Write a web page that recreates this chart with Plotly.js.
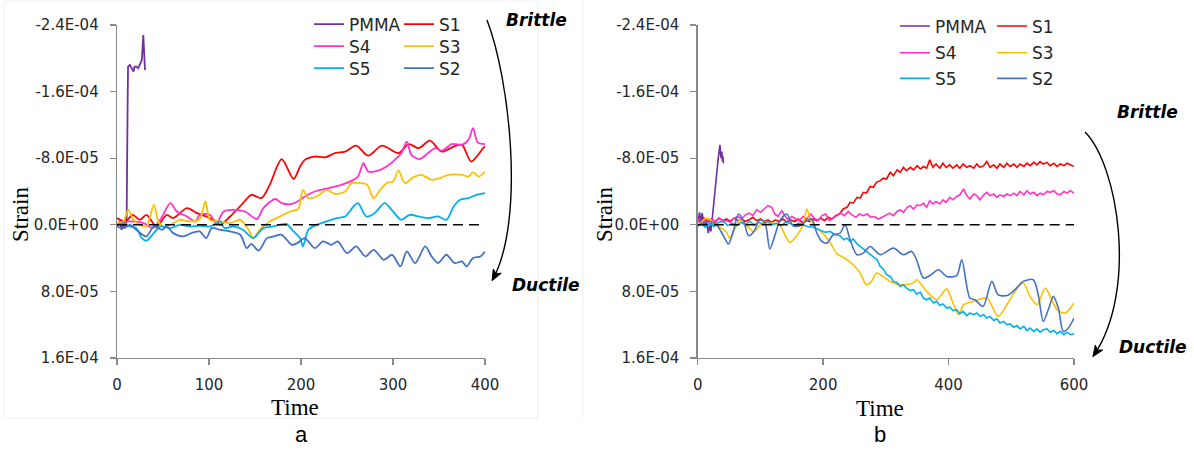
<!DOCTYPE html>
<html><head><meta charset="utf-8">
<script src="https://cdn.plot.ly/plotly-3.0.1.min.js"></script>
<style>html,body{margin:0;padding:0;background:#fff}#chart{width:1194px;height:452px}</style>
</head><body><div id="chart"></div>
<script>
// ---------- DATA (strain values) ----------
const seriesNames = ['PMMA','S1','S4','S3','S5','S2'];
const seriesColors = {PMMA:'#7030A0', S1:'#FF0000', S4:'#FF33CC', S3:'#FFC000', S5:'#00B0F0', S2:'#4472C4'};
const yTickVals = [-2.4e-4,-1.6e-4,-8e-5,0,8e-5,1.6e-4];
const yTickText = ['-2.4E-04','-1.6E-04','-8.0E-05','0.0E+00','8.0E-05','1.6E-04'];
const xTicksA = [0,100,200,300,400];
const xTicksB = [0,200,400,600];
const panelLabels = ['a','b'];

// Panel a
const tA_PMMA = [0,3,5,7,9,10.5,11.5,12,14,16,18,19,21,23,25,27,28.6,29.5,30.4];
const yA_PMMA = [0.2e-5,-0.4e-5,0.6e-5,-0.2e-5,0.4e-5,-1.0e-5,-14e-5,-19.0e-5,-19.2e-5,-18.8e-5,-18.4e-5,-19.0e-5,-19.0e-5,-18.8e-5,-19.4e-5,-19.8e-5,-22.8e-5,-21.0e-5,-18.6e-5];
const tA_S1 = [0,9,17,25,32,43,54,61,76,87,97,108,112,123,137,146,157,166,179,192,199,204,215,226,237,248,260,273,288,306,317,328,340,353,366,375,385,398,400];
const yA_S1 = [-0.8e-5,-0.4e-5,-1.2e-5,-0.6e-5,-1.2e-5,0.2e-5,-1.2e-5,-0.8e-5,-2.0e-5,-1.4e-5,-1.0e-5,-0.4e-5,0.0,-1.0e-5,-2.6e-5,-3.6e-5,-3.2e-5,-4.8e-5,-7.9e-5,-5.5e-5,-7.0e-5,-7.8e-5,-8.2e-5,-8.1e-5,-8.6e-5,-8.8e-5,-9.5e-5,-8.3e-5,-9.5e-5,-8.6e-5,-9.7e-5,-9.2e-5,-10.1e-5,-8.8e-5,-9.4e-5,-9.6e-5,-7.6e-5,-9.2e-5,-9.4e-5];
const tA_S4 = [0,14,29,39,47,58,65,76,85,90,101,108,116,126,139,152,159,172,179,190,199,204,215,230,244,257,262,268,273,284,293,302,309,315,320,329,338,346,353,364,375,382,387,392,400];
const yA_S4 = [-0.2e-5,-0.4e-5,-0.2e-5,0.4e-5,-0.6e-5,-2.6e-5,-1.6e-5,-1.0e-5,-0.4e-5,-1.2e-5,-1.2e-5,-0.2e-5,-1.6e-5,-1.8e-5,-1.6e-5,-0.7e-5,-2.0e-5,-3.1e-5,-2.6e-5,-2.5e-5,-3.0e-5,-3.4e-5,-4.0e-5,-4.4e-5,-4.8e-5,-5.4e-5,-5.8e-5,-7.4e-5,-6.4e-5,-6.5e-5,-7.0e-5,-7.8e-5,-8.6e-5,-10.0e-5,-8.4e-5,-7.9e-5,-8.6e-5,-9.2e-5,-8.9e-5,-9.7e-5,-9.6e-5,-10.2e-5,-11.6e-5,-9.9e-5,-9.7e-5];
const tA_S3 = [0,7,12,18,25,32,40,45,50,58,68,79,90,96,101,112,123,134,143,148,155,166,177,188,197,202,208,217,228,237,248,255,266,272,279,286,293,300,306,313,322,331,342,351,360,375,382,387,393,400];
const yA_S3 = [-0.2e-5,-0.4e-5,-1.8e-5,-0.6e-5,0,0.2e-5,-2.4e-5,-0.4e-5,0.2e-5,0,-0.6e-5,-0.4e-5,-0.7e-5,-2.8e-5,-0.6e-5,-0.4e-5,-0.2e-5,-0.6e-5,0.6e-5,1.6e-5,0.6e-5,-0.4e-5,-1.0e-5,-1.6e-5,-1.9e-5,-4.2e-5,-3.2e-5,-3.4e-5,-4.2e-5,-3.7e-5,-4.0e-5,-5.0e-5,-5.0e-5,-4.8e-5,-3.2e-5,-4.2e-5,-5.0e-5,-5.2e-5,-6.5e-5,-5.0e-5,-5.7e-5,-6.0e-5,-5.4e-5,-5.6e-5,-6.0e-5,-6.0e-5,-5.8e-5,-6.3e-5,-5.8e-5,-6.4e-5];
const tA_S5 = [0,7,14,21,27,32,40,47,58,68,79,90,101,112,117,126,137,148,159,170,177,184,192,199,202,208,217,228,239,248,257,262,271,280,291,300,309,318,328,338,349,358,366,373,382,391,400];
const yA_S5 = [0,-0.2e-5,0.2e-5,0.4e-5,1.6e-5,1.9e-5,1.0e-5,0.2e-5,0.4e-5,0,0.2e-5,0.1e-5,0.2e-5,-0.4e-5,0.4e-5,0.2e-5,0.6e-5,1.6e-5,0.4e-5,0.2e-5,0,-0.1e-5,0.8e-5,1.6e-5,2.6e-5,0.6e-5,0,-0.4e-5,-0.8e-5,-1.0e-5,-2.2e-5,-2.6e-5,-1.0e-5,-1.4e-5,-2.6e-5,-1.6e-5,-0.6e-5,-1.2e-5,-1.0e-5,-0.8e-5,-1.0e-5,-0.6e-5,-2.2e-5,-3.0e-5,-3.2e-5,-3.6e-5,-3.8e-5];
const tA_S2 = [0,7,14,21,32,40,49,54,61,72,81,90,97,103,112,123,134,141,146,154,163,170,179,190,196,204,215,224,233,240,250,260,270,279,290,299,308,315,324,335,342,349,358,367,375,380,387,395,400];
const yA_S2 = [0.2e-5,0.4e-5,0,0.6e-5,1.4e-5,0.2e-5,0.6e-5,0.2e-5,1.0e-5,1.4e-5,1.0e-5,0.8e-5,1.6e-5,0.4e-5,0.6e-5,0.8e-5,1.2e-5,2.8e-5,2.3e-5,3.1e-5,1.6e-5,1.4e-5,1.2e-5,2.4e-5,2.2e-5,1.6e-5,2.8e-5,2.0e-5,2.4e-5,2.0e-5,3.4e-5,2.6e-5,3.8e-5,3.0e-5,4.2e-5,3.6e-5,5.0e-5,3.2e-5,4.6e-5,2.6e-5,3.8e-5,4.6e-5,3.6e-5,4.6e-5,4.4e-5,5.0e-5,4.0e-5,3.8e-5,3.2e-5];

// Panel b
const tB_PMMA = [0,1,3,5,7,9,11,13,15,17,19,21,23,25,27,29,31,33,34.5,35.5,36.5,37.5,38.5,39.5,40.5,41];
const yB_PMMA = [-0.2e-5,-0.8e-5,-1.5e-5,-0.2e-5,-1.4e-5,-0.6e-5,0.2e-5,-0.8e-5,0.4e-5,1.0e-5,0,0.8e-5,-0.6e-5,-2.2e-5,-4.2e-5,-5.6e-5,-7.0e-5,-8.2e-5,-9.0e-5,-9.6e-5,-8.4e-5,-8.0e-5,-8.8e-5,-7.6e-5,-8.2e-5,-7.4e-5];
const tB_S1 = [0,5,10,16,22,28,34,40,46,52,58,64,70,76,82,88,94,100,106,112,118,124,130,136,142,148,154,160,166,172,178,184,190,196,202,208,214,220,226,232,238,243,248,254,259,264,269,275,280,285,291,296,301,307,312,318,323,328,333,339,344,350,355,360,365,370,375,380,386,391,396,402,407,413,418,423,429,434,440,445,450,456,461,466,472,477,482,488,493,498,504,509,514,520,525,530,536,541,546,551,557,562,568,573,578,584,589,594,600];
const yB_S1 = [-0.6e-5,-0.3e-5,-0.8e-5,-0.4e-5,-0.7e-5,-0.3e-5,-0.8e-5,-0.5e-5,-0.7e-5,-0.4e-5,
-0.8e-5,-0.5e-5,-0.7e-5,-0.4e-5,-0.6e-5,-0.9e-5,-0.5e-5,-0.7e-5,-0.4e-5,-0.6e-5,
-0.3e-5,-0.6e-5,-0.4e-5,-0.7e-5,-0.3e-5,-0.6e-5,-0.4e-5,-0.7e-5,-0.3e-5,-0.6e-5,
-0.4e-5,-0.7e-5,-0.5e-5,-0.8e-5,-0.5e-5,-0.9e-5,-0.7e-5,-1.1e-5,-1.3e-5,-1.9e-5,
-2.1e-5,-2.7e-5,-2.6e-5,-3.3e-5,-3.2e-5,-3.9e-5,-3.8e-5,-4.6e-5,-4.5e-5,-5.1e-5,
-5.3e-5,-5.6e-5,-5.5e-5,-6.3e-5,-5.9e-5,-6.6e-5,-6.3e-5,-6.9e-5,-6.5e-5,-6.9e-5,
-6.6e-5,-7.1e-5,-6.7e-5,-7.0e-5,-6.8e-5,-7.8e-5,-6.9e-5,-7.3e-5,-6.8e-5,-7.4e-5,
-6.9e-5,-7.2e-5,-6.8e-5,-7.2e-5,-6.8e-5,-7.3e-5,-6.9e-5,-7.1e-5,-6.8e-5,-7.3e-5,
-6.9e-5,-7.1e-5,-7.6e-5,-6.9e-5,-7.2e-5,-6.8e-5,-7.3e-5,-6.9e-5,-7.4e-5,-7.0e-5,
-7.3e-5,-6.9e-5,-7.3e-5,-7.0e-5,-7.4e-5,-7.1e-5,-7.5e-5,-7.2e-5,-7.6e-5,-7.3e-5,
-7.5e-5,-7.1e-5,-7.4e-5,-7.0e-5,-7.3e-5,-7.1e-5,-7.4e-5,-7.2e-5,-7.0e-5];
const tB_S4 = [0,5,10,16,22,28,34,40,46,52,58,64,70,76,82,88,94,100,106,112,118,123,128,134,139,144,150,156,162,168,174,180,186,192,198,204,210,216,222,228,234,240,246,252,258,264,270,276,282,288,294,300,306,312,318,323,328,334,339,344,350,355,360,365,370,375,380,386,391,396,402,407,413,418,424,429,434,440,445,450,456,461,466,472,477,482,488,493,498,504,509,514,520,525,530,536,541,546,551,557,562,568,573,578,584,589,594,600];
const yB_S4 = [-0.5e-5,-0.2e-5,-0.6e-5,-0.3e-5,-0.7e-5,-0.4e-5,-0.8e-5,-0.4e-5,-0.5e-5,-0.3e-5,
-0.8e-5,-1.0e-5,-0.7e-5,-1.2e-5,-1.4e-5,-1.1e-5,-1.8e-5,-1.5e-5,-1.9e-5,-2.3e-5,
-2.1e-5,-1.3e-5,-1.0e-5,-1.7e-5,-1.1e-5,-0.6e-5,-1.0e-5,-0.7e-5,-0.5e-5,-1.0e-5,
-0.7e-5,-1.3e-5,-0.8e-5,-0.5e-5,-1.1e-5,-1.3e-5,-0.5e-5,-0.8e-5,-1.1e-5,-1.4e-5,
-1.1e-5,-1.6e-5,-1.2e-5,-0.9e-5,-1.3e-5,-1.1e-5,-1.3e-5,-0.9e-5,-1.0e-5,-0.7e-5,
-0.9e-5,-1.2e-5,-1.4e-5,-1.1e-5,-1.6e-5,-1.8e-5,-1.5e-5,-2.1e-5,-2.3e-5,-1.9e-5,
-2.4e-5,-2.3e-5,-2.6e-5,-2.1e-5,-2.9e-5,-2.5e-5,-2.8e-5,-2.5e-5,-3.0e-5,-2.7e-5,
-3.3e-5,-3.0e-5,-3.4e-5,-3.6e-5,-4.3e-5,-3.5e-5,-3.1e-5,-3.7e-5,-3.5e-5,-3.0e-5,
-3.6e-5,-3.9e-5,-3.5e-5,-3.7e-5,-3.3e-5,-3.6e-5,-3.4e-5,-3.7e-5,-3.5e-5,-3.8e-5,
-3.5e-5,-4.0e-5,-3.6e-5,-4.1e-5,-3.7e-5,-3.9e-5,-3.5e-5,-3.8e-5,-3.6e-5,-4.0e-5,
-3.9e-5,-4.1e-5,-3.7e-5,-3.6e-5,-4.0e-5,-3.8e-5,-4.1e-5,-3.8e-5];
const tB_S3 = [0,4,14,25,36,46,51,60,67,78,89,99,107,118,131,139,147,158,168,174,179,187,195,211,222,232,248,259,269,277,285,291,307,323,344,349,365,381,397,405,416,424,440,461,479,493,506,519,530,541,554,562,573,586,600];
const yB_S3 = [0,-0.2e-5,-0.8e-5,-0.3e-5,0.3e-5,0.9e-5,1.6e-5,0.4e-5,-0.6e-5,0.1e-5,0.8e-5,0.1e-5,-0.4e-5,-0.2e-5,0,1.2e-5,2.1e-5,1.3e-5,0,-1.9e-5,-0.8e-5,0.3e-5,0.7e-5,2.1e-5,3.5e-5,3.9e-5,4.8e-5,5.8e-5,7.2e-5,6.8e-5,5.8e-5,6.0e-5,6.8e-5,7.2e-5,7.0e-5,6.6e-5,8.0e-5,9.0e-5,7.7e-5,9.0e-5,10.8e-5,9.6e-5,9.2e-5,8.8e-5,11.0e-5,9.6e-5,8.0e-5,7.0e-5,8.6e-5,9.6e-5,7.6e-5,8.6e-5,10.2e-5,10.6e-5,9.4e-5];
const tB_S5 = [0,6,12,19,26,33,41,48,55,62,69,76,83,90,97,104,111,118,126,133,140,147,154,161,168,175,184,190,195,203,211,219,227,233,238,243,248,254,259,264,269,275,280,286,291,296,301,307,312,317,323,328,333,339,344,349,355,360,365,370,376,381,386,391,397,402,407,413,418,423,429,434,440,445,450,456,461,466,472,477,482,488,493,498,504,509,514,520,525,530,536,541,546,551,557,562,568,573,578,584,589,594,600];
const yB_S5 = [0.2e-5,-0.2e-5,0.3e-5,-0.2e-5,0.2e-5,-0.3e-5,-0.4e-5,0.1e-5,-0.2e-5,0.1e-5,
-0.3e-5,0,-0.4e-5,0,-0.3e-5,-0.1e-5,-0.4e-5,0,-0.2e-5,0.1e-5,
-0.3e-5,-0.2e-5,0.1e-5,-0.2e-5,0,0.2e-5,0.3e-5,0.5e-5,0.6e-5,0.9e-5,
0.8e-5,1.2e-5,1.3e-5,1.8e-5,1.6e-5,2.0e-5,1.7e-5,2.3e-5,2.6e-5,2.9e-5,
3.2e-5,3.5e-5,3.8e-5,4.2e-5,5.0e-5,5.3e-5,6.0e-5,6.2e-5,6.8e-5,6.9e-5,
7.4e-5,7.2e-5,7.6e-5,7.9e-5,7.8e-5,8.3e-5,8.1e-5,8.8e-5,9.0e-5,8.8e-5,
9.4e-5,9.2e-5,9.7e-5,9.5e-5,10.0e-5,9.9e-5,10.3e-5,10.2e-5,10.7e-5,10.4e-5,
10.9e-5,10.6e-5,10.8e-5,10.6e-5,11.0e-5,10.8e-5,11.2e-5,11.0e-5,11.5e-5,11.3e-5,
11.8e-5,11.6e-5,12.0e-5,11.9e-5,12.3e-5,12.1e-5,12.5e-5,12.2e-5,12.7e-5,12.4e-5,
12.8e-5,12.5e-5,12.9e-5,12.6e-5,12.5e-5,12.9e-5,12.7e-5,13.1e-5,12.8e-5,13.2e-5,
12.9e-5,13.2e-5,13.1e-5];
const tB_S2 = [0,4,12,19,30,41,49,57,65,73,81,89,99,107,115,123,131,142,152,163,174,182,190,198,206,216,227,235,243,254,264,275,291,312,328,341,349,360,372,384,397,413,421,434,442,455,469,479,493,503,519,535,543,551,559,567,575,583,591,600];
const yB_S2 = [0,0,-0.3e-5,-0.4e-5,0,1.3e-5,2.3e-5,0.7e-5,-1.3e-5,-0.5e-5,1.3e-5,0.9e-5,-0.6e-5,-0.3e-5,2.9e-5,1.3e-5,-0.5e-5,-1.3e-5,0.1e-5,0.1e-5,-0.5e-5,-0.7e-5,1.0e-5,2.0e-5,2.2e-5,1.2e-5,1.0e-5,0,1.8e-5,3.6e-5,3.4e-5,2.6e-5,3.6e-5,2.8e-5,3.6e-5,3.2e-5,4.2e-5,6.4e-5,6.0e-5,5.4e-5,6.2e-5,6.1e-5,4.2e-5,8.8e-5,9.0e-5,9.8e-5,6.8e-5,8.4e-5,8.5e-5,8.0e-5,6.8e-5,6.6e-5,8.4e-5,11.6e-5,10.2e-5,8.6e-5,10.0e-5,12.8e-5,12.4e-5,11.2e-5];

// ---------- BUILD ----------
const W = 1194, H = 452;
const px = x => x / W, py = y => 1 - y / H;

const dataA = {PMMA:[tA_PMMA,yA_PMMA], S1:[tA_S1,yA_S1], S4:[tA_S4,yA_S4], S3:[tA_S3,yA_S3], S5:[tA_S5,yA_S5], S2:[tA_S2,yA_S2]};
const dataB = {PMMA:[tB_PMMA,yB_PMMA], S1:[tB_S1,yB_S1], S4:[tB_S4,yB_S4], S3:[tB_S3,yB_S3], S5:[tB_S5,yB_S5], S2:[tB_S2,yB_S2]};
const smoothB = ['S3','S2'];

// legend entry positions: [text left x, row centre y] in pixels
const legPosA = {PMMA:[349,23], S1:[439,23], S4:[349,45], S3:[439,45], S5:[349,67], S2:[439,67]};
const legPosB = {PMMA:[935,25], S1:[1032,25], S4:[935,51.7], S3:[1032,51.7], S5:[935,77.3], S2:[1032,77.3]};

const legendFont = {family:'DejaVu Sans', size:17, color:'#262626'};
const legends = {};
let li = 0;
const traces = [];
function legendKey(){ li++; return li === 1 ? 'legend' : 'legend' + li; }
function mkLegend(pos){
  return {x:px(pos[0]-40), y:py(pos[1]-16.5), xanchor:'left', yanchor:'top', bgcolor:'rgba(0,0,0,0)',
    font:legendFont, orientation:'v', itemwidth:30};
}
seriesNames.forEach(n => {
  const k = legendKey(); legends[k] = mkLegend(legPosA[n]);
  traces.push({x:dataA[n][0], y:dataA[n][1], type:'scatter', mode:'lines', name:n,
    xaxis:'x', yaxis:'y', legend:k,
    line:{color:seriesColors[n], width:1.8, shape: n==='PMMA' ? 'linear' : 'spline', smoothing:0.8}});
});
seriesNames.forEach(n => {
  const k = legendKey(); legends[k] = mkLegend(legPosB[n]);
  traces.push({x:dataB[n][0], y:dataB[n][1], type:'scatter', mode:'lines', name:n,
    xaxis:'x2', yaxis:'y2', legend:k,
    line:{color:seriesColors[n], width:1.6, shape: smoothB.includes(n) ? 'spline' : 'linear', smoothing:0.8}});
});

const tickFont = {family:'DejaVu Sans', size:15, color:'#262626'};
const axisBase = {showgrid:false, zeroline:false, showline:true, linecolor:'#898989', linewidth:1.3,
  ticks:'outside', ticklen:6, tickcolor:'#898989', tickwidth:1.3, tickfont:tickFont, fixedrange:true};
const yDomain = [py(358), py(25)];
const yAxis = (anchor) => Object.assign({}, axisBase, {range:[1.6e-4,-2.4e-4], tickmode:'array',
  tickvals:yTickVals, ticktext:yTickText, domain:yDomain, anchor:anchor, ticklabelstandoff:8});

function curve(p0,p1,p2,p3){ return 'M '+px(p0[0])+','+py(p0[1])+' C '+[p1,p2,p3].map(q=>px(q[0])+','+py(q[1])).join(' '); }
function head(p2,p3){
  const dx=p3[0]-p2[0], dy=p3[1]-p2[1], L=Math.hypot(dx,dy), d=[dx/L,dy/L], n=[d[1],-d[0]];
  const T=[p3[0]+2*d[0], p3[1]+2*d[1]], B=[T[0]-11*d[0], T[1]-11*d[1]];
  const w1=[B[0]+4.5*n[0],B[1]+4.5*n[1]], w2=[B[0]-4.5*n[0],B[1]-4.5*n[1]], nt=[B[0]+3*d[0],B[1]+3*d[1]];
  return 'M '+[T,w1,nt,w2].map(q=>px(q[0])+','+py(q[1])).join(' L ')+' Z';
}
const arrA = [[487,20],[510,80],[525,220],[493,279]];
const arrB = [[1085,132],[1118,165],[1138,290],[1094,355]];

const shapes = [
  {type:'rect', xref:'paper', yref:'paper', x0:px(4), x1:px(538), y0:py(418), y1:py(1), line:{color:'#efefef', width:1}},
  {type:'line', xref:'paper', yref:'paper', x0:px(583), x1:px(583), y0:py(418), y1:py(1), line:{color:'#efefef', width:1}},
  {type:'line', xref:'x domain', yref:'y', x0:0, x1:1, y0:0, y1:0, line:{color:'#000', width:1.5, dash:'10px,6px'}},
  {type:'line', xref:'x2 domain', yref:'y2', x0:0, x1:1, y0:0, y1:0, line:{color:'#000', width:1.5, dash:'10px,6px'}},
  {type:'path', xref:'paper', yref:'paper', path:curve(...arrA), line:{color:'#000', width:1.4}},
  {type:'path', xref:'paper', yref:'paper', path:head(arrA[2],arrA[3]), line:{color:'#000', width:1}, fillcolor:'#000'},
  {type:'path', xref:'paper', yref:'paper', path:curve(...arrB), line:{color:'#000', width:1.4}},
  {type:'path', xref:'paper', yref:'paper', path:head(arrB[2],arrB[3]), line:{color:'#000', width:1}, fillcolor:'#000'}
];

const serif = {family:'Liberation Serif', size:23, color:'#000'};
const bi = {family:'DejaVu Sans', size:17, color:'#000', weight:'bold', style:'italic'};
const lab = {family:'Liberation Sans', size:22, color:'#000'};
const ann = (x,y,text,font,extra) => Object.assign({xref:'paper', yref:'paper', x:px(x), y:py(y), text:text,
  showarrow:false, font:font, xanchor:'center', yanchor:'middle'}, extra||{});
const annotations = [
  ann(20,215,'Strain',serif,{textangle:-90}),
  ann(604,215,'Strain',serif,{textangle:-90}),
  ann(295,407,'Time',serif),
  ann(880,408,'Time',serif),
  ann(301,434,panelLabels[0],lab),
  ann(880,434,panelLabels[1],lab),
  ann(536,20,'Brittle',bi),
  ann(546,285,'Ductile',bi),
  ann(1147,112,'Brittle',bi),
  ann(1153,347,'Ductile',bi)
];

const layout = Object.assign({
  width:W, height:H, autosize:false, margin:{l:0,r:0,t:0,b:0},
  paper_bgcolor:'#fff', plot_bgcolor:'rgba(0,0,0,0)', showlegend:true,
  xaxis: Object.assign({}, axisBase, {domain:[px(117),px(485)], range:[0,400], tickmode:'array', tickvals:xTicksA, anchor:'y', ticklabelstandoff:7}),
  xaxis2: Object.assign({}, axisBase, {domain:[px(697.7),px(1074)], range:[0,600], tickmode:'array', tickvals:xTicksB, anchor:'y2', ticklabelstandoff:7}),
  yaxis: yAxis('x'),
  yaxis2: yAxis('x2'),
  shapes: shapes,
  annotations: annotations
}, legends);

Plotly.newPlot('chart', traces, layout, {displayModeBar:false, staticPlot:true});
</script></body></html>
